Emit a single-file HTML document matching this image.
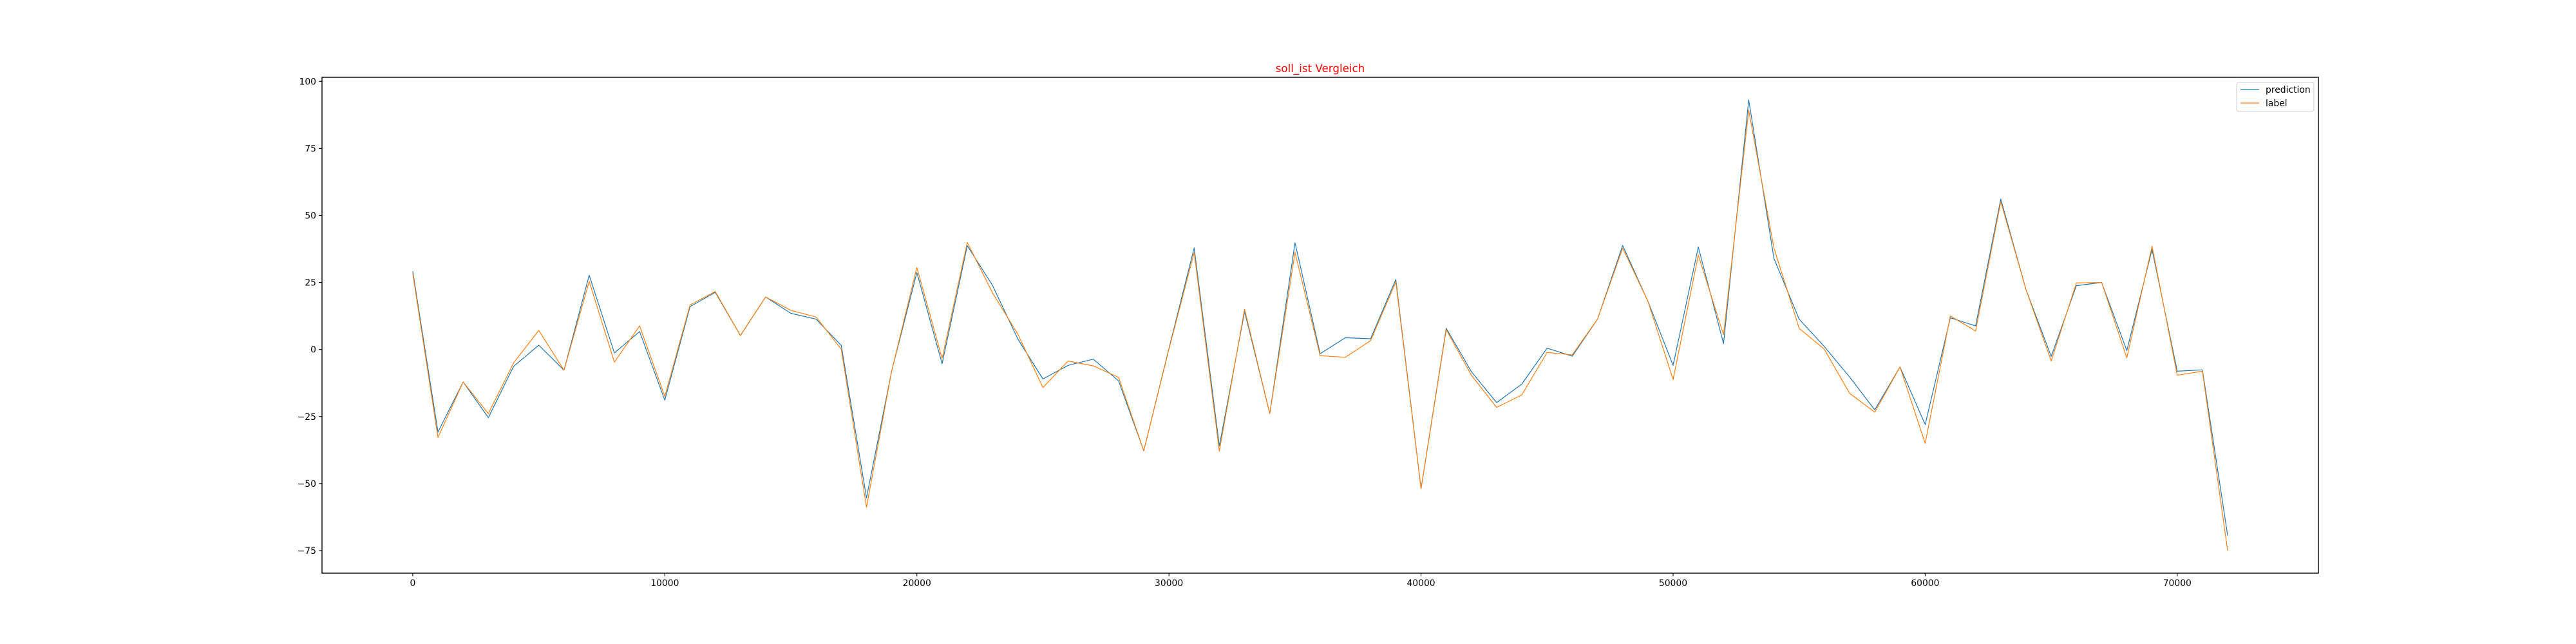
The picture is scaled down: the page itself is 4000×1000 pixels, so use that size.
<!DOCTYPE html>
<html><head><meta charset="utf-8"><style>
html,body{margin:0;padding:0;background:#fff;}
svg{display:block;font-family:"DejaVu Sans","Liberation Sans",sans-serif;}
</style></head><body>
<svg id="chart" width="4000" height="1000" viewBox="0 0 4000 1000">
<rect width="4000" height="1000" fill="#fff"/>
<text x="2050" y="112" text-anchor="middle" font-size="16.7" fill="red">soll_ist Vergleich</text>
<g id="axes"></g>
<g id="series"></g>
<rect x="500" y="120" width="3100" height="770" fill="none" stroke="#000" stroke-width="1.4"/>
<g>
<rect x="3473" y="128" width="120" height="45" rx="3" fill="#fff" fill-opacity="0.8" stroke="#ccc" stroke-width="1"/>
<g>
<line x1="3479" y1="139" x2="3508" y2="139" stroke="#1f77b4" stroke-width="1.2"/>
<text x="3518" y="144" font-size="13.9" fill="#000">prediction</text></g>
<g>
<line x1="3479" y1="160" x2="3508" y2="160" stroke="#ff7f0e" stroke-width="1.2"/>
<text x="3518" y="165" font-size="13.9" fill="#000">label</text></g>
</g>
</svg>
<script>
const xStep = 1000;
const prediction = [29.2,-30.8,-12.1,-25.4,-6.3,1.6,-7.7,27.7,-1.3,6.7,-18.9,16.0,21.3,5.2,19.6,13.5,11.3,1.5,-55.3,-8,28.7,-5.3,38.7,23.9,4.0,-11.0,-5.9,-3.6,-11.7,-37.8,0.5,37.9,-36.0,14.1,-23.9,39.8,-1.6,4.4,4.0,26.1,-51.9,7.9,-8.3,-19.8,-12.9,0.5,-2.5,11.3,38.8,18.0,-5.9,38.2,2.2,93.1,34.0,11.3,1.1,-10.2,-22.5,-6.5,-28.0,11.8,8.8,56.1,22.3,-2.6,23.8,25.0,-0.4,37.3,-8.1,-7.6,-69.4];
const label = [28.3,-32.8,-12.1,-23.9,-5.0,7.1,-7.7,25.4,-4.7,8.8,-17.5,16.6,21.6,5.2,19.6,14.6,12.1,0.1,-58.8,-8,30.6,-3.4,39.9,21.1,5.8,-14.2,-4.3,-6.1,-10.4,-37.8,0.2,36.2,-37.9,15.0,-23.9,36.2,-2.3,-2.9,3.3,25.2,-51.9,7.4,-9.6,-21.6,-16.9,-1.1,-2.0,11.3,37.8,18.0,-11.2,35.2,5.5,89.2,37.9,7.9,0.1,-16.3,-23.4,-6.5,-35.0,12.5,6.9,55.1,22.3,-4.3,24.8,25.0,-3.1,38.5,-9.6,-8.1,-75.0];
const xTicks = [0,10000,20000,30000,40000,50000,60000,70000];
const yTicks = [-75,-50,-25,0,25,50,75,100];

const NS="http://www.w3.org/2000/svg";
const L=500,R=3600,T=120,B=890;
const n=prediction.length;
const xmaxD=(n-1)*xStep, xm=xmaxD*0.05;
const allY=prediction.concat(label);
const ymn=Math.min(...allY), ymx=Math.max(...allY), ym=(ymx-ymn)*0.05;
const x0=-xm, x1=xmaxD+xm, y0=ymn-ym, y1=ymx+ym;
const sx=v=>L+(v-x0)/(x1-x0)*(R-L);
const sy=v=>B-(v-y0)/(y1-y0)*(B-T);
const axes=document.getElementById('axes');
const ser=document.getElementById('series');
function mk(tag,attrs){const e=document.createElementNS(NS,tag);for(const k in attrs)e.setAttribute(k,attrs[k]);return e;}
xTicks.forEach(t=>{
  const g=mk('g',{});
  
  
  const x=sx(t);
  g.appendChild(mk('line',{x1:x,y1:B,x2:x,y2:B+4.9,stroke:'#000','stroke-width':1.1}));
  const tx=mk('text',{x:x,y:B+20,'text-anchor':'middle','font-size':13.9,fill:'#000'});
  tx.textContent=String(t);
  g.appendChild(tx);axes.appendChild(g);
});
yTicks.forEach(t=>{
  const g=mk('g',{});
  
  
  const y=sy(t);
  g.appendChild(mk('line',{x1:L-4.9,y1:y,x2:L,y2:y,stroke:'#000','stroke-width':1.1}));
  const tx=mk('text',{x:L-9,y:y+5,'text-anchor':'end','font-size':13.9,fill:'#000'});
  tx.textContent=(t<0?'\u2212'+(-t):String(t));
  g.appendChild(tx);axes.appendChild(g);
});
function line(vals,color,name){
  const pts=vals.map((v,i)=>sx(i*xStep).toFixed(1)+','+sy(v).toFixed(1)).join(' ');
  const p=mk('polyline',{points:pts,fill:'none',stroke:color,'stroke-width':1.2,'stroke-linejoin':'round'});
  
  
  ser.appendChild(p);
}
line(prediction,'#1f77b4','prediction-line');
line(label,'#ff7f0e','label-line');
</script>
</body></html>
